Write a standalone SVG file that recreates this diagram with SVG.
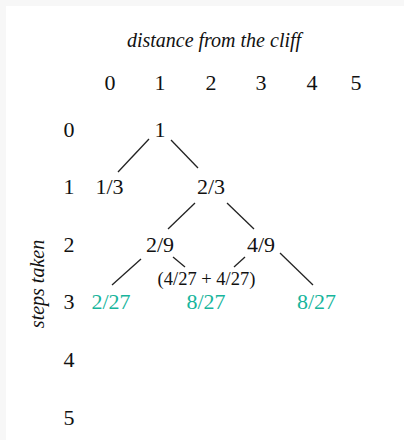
<svg xmlns="http://www.w3.org/2000/svg" width="404" height="440" viewBox="0 0 404 440">
<style>
text{font-family:"Liberation Serif","DejaVu Serif",serif;font-size:22px;fill:#111;text-anchor:middle}
.it{font-style:italic;font-size:20px}
.sm{font-size:18.5px}
.tl{fill:#17b59c}
.ln{stroke:#222;stroke-width:1.3;fill:none}
</style>
<rect width="404" height="440" fill="#f7f7f7"/>
<rect x="6" y="6" width="398" height="434" fill="#fff"/>
<g id="axes">
<text class="it" x="214" y="47">distance from the cliff</text>
<text class="it" transform="translate(44,284) rotate(-90)">steps taken</text>
<text x="110" y="90">0</text><text x="160" y="90">1</text><text x="211" y="90">2</text><text x="261" y="90">3</text><text x="312" y="90">4</text><text x="356" y="90">5</text>
<text x="69" y="137">0</text><text x="69" y="194">1</text><text x="69" y="252">2</text><text x="69" y="309">3</text><text x="69" y="367">4</text><text x="69" y="425">5</text>
</g>
<g id="connectors">
<line class="ln" x1="149" y1="139" x2="118" y2="172"/>
<line class="ln" x1="171" y1="140" x2="198" y2="168"/>
<line class="ln" x1="195" y1="203" x2="168" y2="229"/>
<line class="ln" x1="227" y1="203" x2="254" y2="229"/>
<line class="ln" x1="141" y1="259" x2="112" y2="285"/>
<line class="ln" x1="173" y1="257" x2="185" y2="267"/>
<line class="ln" x1="245" y1="257" x2="234" y2="267"/>
<line class="ln" x1="280" y1="253" x2="313" y2="285"/>
</g>
<g id="n0"><text x="160" y="137">1</text></g>
<g id="n1a"><text x="109.5" y="194">1/3</text></g>
<g id="n1b"><text x="211" y="194">2/3</text></g>
<g id="n2a"><text x="160" y="252">2/9</text></g>
<g id="n2b"><text x="261" y="252">4/9</text></g>
<g id="sum"><text class="sm" x="206.5" y="285">(4/27 + 4/27)</text></g>
<g id="n3a"><text class="tl" x="111" y="309">2/27</text></g>
<g id="n3b"><text class="tl" x="206" y="309">8/27</text></g>
<g id="n3c"><text class="tl" x="316.5" y="309">8/27</text></g>
</svg>
